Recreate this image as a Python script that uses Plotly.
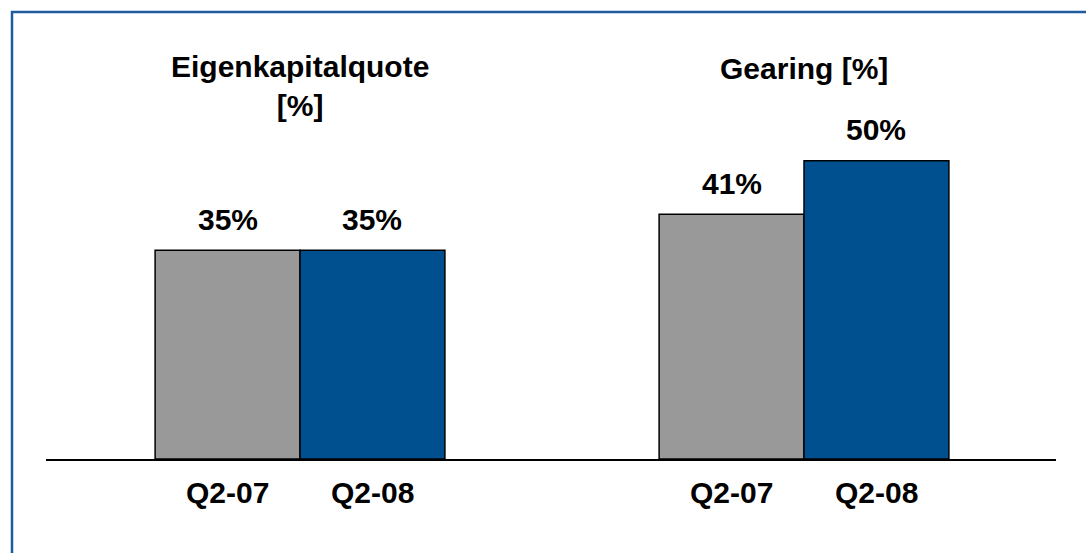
import plotly.graph_objects as go

groups = ["Eigenkapitalquote<br>[%]", "Gearing [%]"]
periods = ["Q2-07", "Q2-08"]
values_q207 = [35, 41]
values_q208 = [35, 50]
value_labels_q207 = ["35%", "41%"]
value_labels_q208 = ["35%", "50%"]

colors = ["#999999", "#00508F"]
W, H = 1086, 553
ml, mr, mt, mb = 46, 30, 101, 94
bargap = 0.425
font = "Liberation Sans, Arial, Helvetica, sans-serif"
fs = 30

fig = go.Figure()
xs = list(range(len(groups)))
for vals, name, col in [(values_q207, periods[0], colors[0]), (values_q208, periods[1], colors[1])]:
    fig.add_trace(go.Bar(x=xs, y=vals, name=name, marker=dict(color=col, line=dict(color="black", width=1.5))))

bw = (1 - bargap) / 2
ann = []
for i, g in enumerate(groups):
    ann.append(dict(x=i, y=1.0, xref="x", yref="paper", text="<b>%s</b>" % g, showarrow=False,
                    yanchor="middle", yshift=(15 if "<br>" in g else 33),
                    font=dict(size=fs, color="black", family=font)))
    for j, (vals, labs) in enumerate([(values_q207, value_labels_q207), (values_q208, value_labels_q208)]):
        xc = i + (j - 0.5) * bw
        ann.append(dict(x=xc, y=vals[i], xref="x", yref="y", text="<b>%s</b>" % labs[i], showarrow=False,
                        yanchor="middle", yshift=31, font=dict(size=fs, color="black", family=font)))
        ann.append(dict(x=xc, y=0, xref="x", yref="y", text="<b>%s</b>" % periods[j], showarrow=False,
                        yanchor="middle", yshift=-33, font=dict(size=fs, color="black", family=font)))

pw = W - ml - mr
ph = H - mt - mb
fig.update_layout(
    width=W, height=H, margin=dict(l=ml, r=mr, t=mt, b=mb, pad=0),
    barmode="group", bargap=bargap, bargroupgap=0,
    plot_bgcolor="white", paper_bgcolor="white", showlegend=False,
    xaxis=dict(range=[-0.504, 1.5], showticklabels=False, ticks="", showgrid=False, zeroline=False,
               showline=True, linecolor="black", linewidth=2),
    yaxis=dict(range=[0, 60], visible=False, showgrid=False, zeroline=False),
    annotations=ann,
    shapes=[dict(type="rect", xref="paper", yref="paper",
                 x0=(12 - ml) / pw, x1=(1100 - ml) / pw,
                 y0=(H - mb - 570) / ph, y1=(H - mb - 12) / ph,
                 line=dict(color="#1F5C9E", width=2.5), fillcolor="rgba(0,0,0,0)")],
)
fig.write_html("out.html", config={"displayModeBar": False},
               post_script="document.body.style.margin='0';document.body.style.overflow='hidden';")
